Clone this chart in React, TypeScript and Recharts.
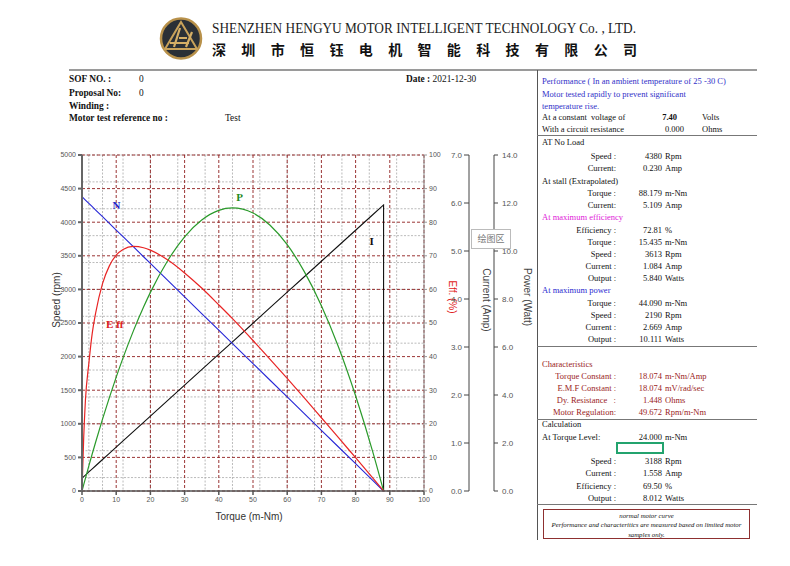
import React from 'react';
import { LineChart, Line, XAxis, YAxis, CartesianGrid, ReferenceDot } from 'recharts';

// values
const torque = [0, 0.5, 1, 2, 3, 4, 6, 8, 10, 12, 15, 18, 20, 25, 30, 35, 40, 44, 50, 55, 60, 65, 70, 75, 80, 85, 88.18];
const speed = [4380, 4355, 4330, 4281, 4231, 4181, 4082, 3983, 3883, 3784, 3635, 3486, 3387, 3138, 2890, 2641, 2393, 2194, 1896, 1648, 1400, 1151, 903, 655, 406, 158, 0];
const efficiency = [0, 16, 27, 38, 47, 53, 61.7, 67, 70.2, 71.9, 72.8, 72.4, 71.7, 68.8, 64.9, 60.4, 55.4, 51.3, 44.8, 39.2, 33.5, 27.7, 21.8, 15.9, 9.9, 3.9, 0];
const current = [0.23, 0.258, 0.285, 0.341, 0.396, 0.451, 0.562, 0.673, 0.783, 0.894, 1.06, 1.226, 1.337, 1.613, 1.89, 2.167, 2.443, 2.664, 2.996, 3.273, 3.55, 3.826, 4.103, 4.38, 4.656, 4.933, 5.109];
const power = [0, 0.228, 0.453, 0.897, 1.329, 1.751, 2.565, 3.337, 4.066, 4.755, 5.71, 6.57, 7.094, 8.215, 9.079, 9.68, 10.024, 10.109, 9.928, 9.492, 8.796, 7.835, 6.619, 5.144, 3.401, 1.406, 0];

const torqueTicks = [0, 10, 20, 30, 40, 50, 60, 70, 80, 90, 100];
const speedTicks = [0, 500, 1000, 1500, 2000, 2500, 3000, 3500, 4000, 4500, 5000];
const effTicks = [0, 10, 20, 30, 40, 50, 60, 70, 80, 90, 100];
const currentTicks = [0, 1, 2, 3, 4, 5, 6, 7];
const powerTicks = [0, 2, 4, 6, 8, 10, 12, 14];

const curveLabels = [
  { text: 'N', torque: 10.1, speed: 4240, color: '#2424c8' },
  { text: 'P', torque: 46.1, speed: 4360, color: '#1f8a1f' },
  { text: 'I', torque: 84.7, speed: 3705, color: '#111111' },
  { text: 'E ff', torque: 9.6, speed: 2470, color: '#dd2020' },
];

const minorX = Array.from({ length: 51 }, (_, i) => i * 2);
const minorY = Array.from({ length: 51 }, (_, i) => i * 100);

const rows: any[] = torque.map((t, i) => ({
  torque: t,
  speed: speed[i],
  eff: efficiency[i],
  current: current[i],
  power: power[i],
}));
// current line drops back to zero at stall
rows.push({ torque: 88.18, current: 0 });

const infoRows = [
  { label: 'SOF NO. :', value: '0', y: 79, vx: 139 },
  { label: 'Proposal No:', value: '0', y: 93, vx: 139 },
  { label: 'Winding :', value: '', y: 106, vx: 139 },
  { label: 'Motor test reference no :', value: 'Test', y: 118, vx: 225 },
];

const perfLines = [
  'Performance ( In an ambient temperature of 25 -30 C)',
  'Motor tested rapidly to prevent significant',
  'temperature rise.',
];

type PanelRow = { y: number; heading?: string; label?: string; value?: string; unit?: string; color?: string };

const panelRows: PanelRow[] = [
  { y: 142, heading: 'AT No Load' },
  { y: 156, label: 'Speed :', value: '4380', unit: 'Rpm' },
  { y: 168, label: 'Current:', value: '0.230', unit: 'Amp' },
  { y: 181, heading: 'At stall (Extrapolated)' },
  { y: 193, label: 'Torque :', value: '88.179', unit: 'm-Nm' },
  { y: 205, label: 'Current:', value: '5.109', unit: 'Amp' },
  { y: 217, heading: 'At maximum efficiency', color: '#e020d8' },
  { y: 230, label: 'Efficiency :', value: '72.81', unit: '%' },
  { y: 242, label: 'Torque :', value: '15.435', unit: 'm-Nm' },
  { y: 254, label: 'Speed :', value: '3613', unit: 'Rpm' },
  { y: 266, label: 'Current :', value: '1.084', unit: 'Amp' },
  { y: 278, label: 'Output :', value: '5.840', unit: 'Watts' },
  { y: 290, heading: 'At maximum power', color: '#2a2ad0' },
  { y: 303, label: 'Torque :', value: '44.090', unit: 'm-Nm' },
  { y: 315, label: 'Speed :', value: '2190', unit: 'Rpm' },
  { y: 327, label: 'Current :', value: '2.669', unit: 'Amp' },
  { y: 339, label: 'Output :', value: '10.111', unit: 'Watts' },
  { y: 364, heading: 'Characteristics', color: '#9a1c1c' },
  { y: 376, label: 'Torque Constant :', value: '18.074', unit: 'm-Nm/Amp', color: '#9a1c1c' },
  { y: 388, label: 'E.M.F Constant :', value: '18.074', unit: 'mV/rad/sec', color: '#9a1c1c' },
  { y: 400, label: 'Dy. Resistance   :', value: '1.448', unit: 'Ohms', color: '#9a1c1c' },
  { y: 412, label: 'Motor Regulation:', value: '49.672', unit: 'Rpm/m-Nm', color: '#9a1c1c' },
  { y: 424, heading: 'Calculation' },
  { y: 461, label: 'Speed :', value: '3188', unit: 'Rpm' },
  { y: 473, label: 'Current :', value: '1.558', unit: 'Amp' },
  { y: 486, label: 'Efficiency :', value: '69.50', unit: '%' },
  { y: 498, label: 'Output :', value: '8.012', unit: 'Watts' },
];

const SANS = '"Liberation Sans", Arial, sans-serif';
const SERIF = '"Liberation Serif", "Times New Roman", serif';

const axisTitle = (text: string, dx: number, dy: number, angle: number, color: string) => (props: any) => {
  const vb = props.viewBox || { x: 0, y: 0 };
  const x = vb.x + dx;
  const y = vb.y + dy;
  return (
    <text x={x} y={y} transform={`rotate(${angle}, ${x}, ${y})`} textAnchor="middle" dominantBaseline="middle"
      fontSize={10} fill={color} fontFamily={SANS}>
      {text}
    </text>
  );
};

const CurrentTick = (props: any) => {
  const { x, y, payload } = props;
  return (
    <g>
      <line x1={x - 5} y1={y} x2={x} y2={y} stroke="#444" />
      <text x={x - 7} y={y} dy={3} textAnchor="end" fontSize={8} fill="#555" fontFamily={SANS}>
        {Number(payload.value).toFixed(1)}
      </text>
    </g>
  );
};

const tickStyle = { fontSize: 7, fill: '#555', fontFamily: SANS };

// right-hand axes stack outward: r1 (eff), r2 (current), r3 (power)
const MotorChart = () => (
  <LineChart width={560} height={410} data={rows} margin={{ top: 25, right: 21, bottom: 14, left: 32 }}
    style={{ position: 'absolute', left: 0, top: 130 }}>
    <CartesianGrid yAxisId="speed" verticalValues={minorX} horizontalValues={minorY} stroke="#aaaaaa" strokeDasharray="2 1.5" strokeWidth={0.8} />
    <CartesianGrid yAxisId="speed" verticalValues={torqueTicks} horizontalValues={speedTicks} stroke="#8e1d1d" strokeDasharray="3 2" strokeWidth={0.9} />
    <XAxis dataKey="torque" type="number" domain={[0, 100]} ticks={torqueTicks} height={35}
      tick={tickStyle} tickSize={4} tickMargin={2} stroke="#555" strokeWidth={1.5}
      label={axisTitle('Torque (m-Nm)', 167, 26, 0, '#333')} />
    <YAxis yAxisId="speed" orientation="left" width={50} domain={[0, 5000]} ticks={speedTicks}
      tick={tickStyle} tickSize={4} tickMargin={2} stroke="#666" strokeWidth={2}
      label={axisTitle('Speed (rpm)', 25, 145, -90, '#333')} />
    <YAxis yAxisId="r1eff" orientation="right" width={45} domain={[0, 100]} ticks={effTicks}
      tick={tickStyle} tickSize={3} tickMargin={2} stroke="#999"
      label={axisTitle('Eff. (%)', 28, 142, 90, '#e02020')} />
    <YAxis yAxisId="r2cur" orientation="right" width={25} type="number" domain={[0, 7]} ticks={currentTicks}
      tick={<CurrentTick />} tickSize={0} tickMargin={0} tickLine={false} stroke="#444" allowDataOverflow
      label={axisTitle('Current (Amp)', 17, 145, 90, '#444')} />
    <YAxis yAxisId="r3pow" orientation="right" width={45} type="number" domain={[0, 14]} ticks={powerTicks}
      tick={{ fontSize: 8, fill: '#555', fontFamily: SANS }} tickFormatter={(v: number) => v.toFixed(1)}
      tickSize={4} tickMargin={4} stroke="#444" allowDataOverflow
      label={axisTitle('Power (Watt)', 33, 142, 90, '#444')} />
    <YAxis yAxisId="zcurH" hide width={0} domain={[0, 6]} />
    <YAxis yAxisId="zpowH" hide width={0} domain={[0, 12]} />
    <Line yAxisId="zcurH" dataKey="current" type="linear" stroke="#111" strokeWidth={1.1} dot={false} isAnimationActive={false} />
    <Line yAxisId="speed" dataKey="speed" type="linear" stroke="#2626d6" strokeWidth={1.1} dot={false} isAnimationActive={false} />
    <Line yAxisId="zpowH" dataKey="power" type="monotone" stroke="#2a9a2a" strokeWidth={1.2} dot={false} isAnimationActive={false} />
    <Line yAxisId="r1eff" dataKey="eff" type="monotone" stroke="#e82424" strokeWidth={1.2} dot={false} isAnimationActive={false} />
    {curveLabels.map((c) => (
      <ReferenceDot key={c.text} yAxisId="speed" x={c.torque} y={c.speed} r={0}
        shape={(p: any) => (
          <text x={p.cx} y={p.cy} textAnchor="middle" dominantBaseline="middle" fontSize={11}
            fontWeight="bold" fontFamily={SERIF} fill={c.color}>{c.text}</text>
        )} />
    ))}
  </LineChart>
);

const abs = (left: number, top: number, extra: React.CSSProperties = {}): React.CSSProperties => ({
  position: 'absolute', left, top, whiteSpace: 'nowrap', ...extra,
});

const Logo = () => (
  <svg width={44} height={44} style={abs(159, 16)} viewBox="0 0 44 44">
    <circle cx={22} cy={22.5} r={20} fill="#2b3036" stroke="#b8914a" strokeWidth={2.5} />
    <polygon points="22,6 38,33 6,33" fill="none" stroke="#c9a25a" strokeWidth={2} />
    <path d="M15 31 L21 12 M20 22 L28 22 M27 31 L33 16 M11 27 L30 27" stroke="#d4ae66" strokeWidth={2.2} fill="none" />
  </svg>
);

export default function App() {
  return (
    <div style={{ position: 'absolute', left: 0, top: 0, width: 790, height: 566, background: '#fff', overflow: 'hidden', fontFamily: SERIF, color: '#111' }}>
      <Logo />
      <svg width={790} height={70} style={abs(0, 0)}>
        <text x={212} y={33} fontSize={14} fontFamily={SERIF} fill="#222" textLength={424} lengthAdjust="spacingAndGlyphs">
          SHENZHEN HENGYU MOTOR INTELLIGENT TECHNOLOGY Co. , LTD.
        </text>
        <text x={212} y={55} fontSize={14} fontWeight="bold" fontFamily='"Noto Sans CJK SC", sans-serif' fill="#111" textLength={425} lengthAdjust="spacing">
          深圳市恒钰电机智能科技有限公司
        </text>
      </svg>
      <div style={abs(69, 69, { width: 688, height: 2, background: '#9a9a9a' })} />

      {infoRows.map((r) => (
        <React.Fragment key={r.label}>
          <div style={abs(69, r.y - 6, { fontSize: 9.4, fontWeight: 'bold', lineHeight: '12px' })}>{r.label}</div>
          <div style={abs(r.vx, r.y - 6, { fontSize: 9.4, lineHeight: '12px' })}>{r.value}</div>
        </React.Fragment>
      ))}
      <div style={abs(406, 73, { fontSize: 9.4, lineHeight: '12px' })}>
        <b>Date :</b> 2021-12-30
      </div>

      <MotorChart />

      <div style={abs(471, 229, { width: 38, height: 18, border: '1px solid #bbb', background: '#fff', fontSize: 9, color: '#777', fontFamily: '"Noto Sans CJK SC", sans-serif', lineHeight: '18px', textAlign: 'center' })}>
        绘图区
      </div>

      {/* right panel */}
      <div style={abs(537, 70, { width: 1, height: 470, background: '#555' })} />
      {[135, 346, 419, 504].map((y) => (
        <div key={y} style={abs(537, y, { width: 220, height: 1, background: '#777' })} />
      ))}
      {perfLines.map((t, i) => (
        <div key={t} style={abs(542, 75 + i * 12.5, { fontSize: 8.5, lineHeight: '12px', color: '#3030c8' })}>{t}</div>
      ))}
      <div style={abs(542, 111, { fontSize: 8.5, lineHeight: '12px' })}>At a constant&nbsp; voltage of</div>
      <div style={abs(640, 111, { width: 37, textAlign: 'right', fontSize: 8.5, lineHeight: '12px', fontWeight: 'bold' })}>7.40</div>
      <div style={abs(702, 111, { fontSize: 8.5, lineHeight: '12px' })}>Volts</div>
      <div style={abs(542, 123, { fontSize: 8.5, lineHeight: '12px' })}>With a circuit resistance</div>
      <div style={abs(640, 123, { width: 44, textAlign: 'right', fontSize: 8.5, lineHeight: '12px' })}>0.000</div>
      <div style={abs(702, 123, { fontSize: 8.5, lineHeight: '12px' })}>Ohms</div>

      {panelRows.map((r, i) => (
        <React.Fragment key={i}>
          {r.heading && <div style={abs(542, r.y - 6, { fontSize: 8.5, lineHeight: '12px', color: r.color || '#111' })}>{r.heading}</div>}
          {r.label && <div style={abs(536, r.y - 6, { width: 80, textAlign: 'right', fontSize: 8.5, lineHeight: '12px', color: r.color || '#111', whiteSpace: 'pre' })}>{r.label}</div>}
          {r.value && <div style={abs(612, r.y - 6, { width: 50, textAlign: 'right', fontSize: 8.5, lineHeight: '12px', color: r.color || '#111' })}>{r.value}</div>}
          {r.unit && <div style={abs(665, r.y - 6, { fontSize: 8.5, lineHeight: '12px', color: r.color || '#111' })}>{r.unit}</div>}
        </React.Fragment>
      ))}
      <div style={abs(542, 431, { fontSize: 8.5, lineHeight: '12px' })}>At Torque Level:</div>
      <div style={abs(612, 431, { width: 50, textAlign: 'right', fontSize: 8.5, lineHeight: '12px' })}>24.000</div>
      <div style={abs(665, 431, { fontSize: 8.5, lineHeight: '12px' })}>m-Nm</div>
      <div style={abs(616, 442, { width: 44, height: 8, border: '2px solid #23a36e' })} />

      <div style={abs(543, 509, { width: 205, height: 27, border: '1px solid #8e3030', fontSize: 6.8, fontStyle: 'italic', textAlign: 'center', lineHeight: '9.3px', whiteSpace: 'normal', paddingTop: 1 })}>
        normal motor curve<br />
        Performance and characteritics are measured based on limited motor<br />
        samples only.
      </div>
    </div>
  );
}
